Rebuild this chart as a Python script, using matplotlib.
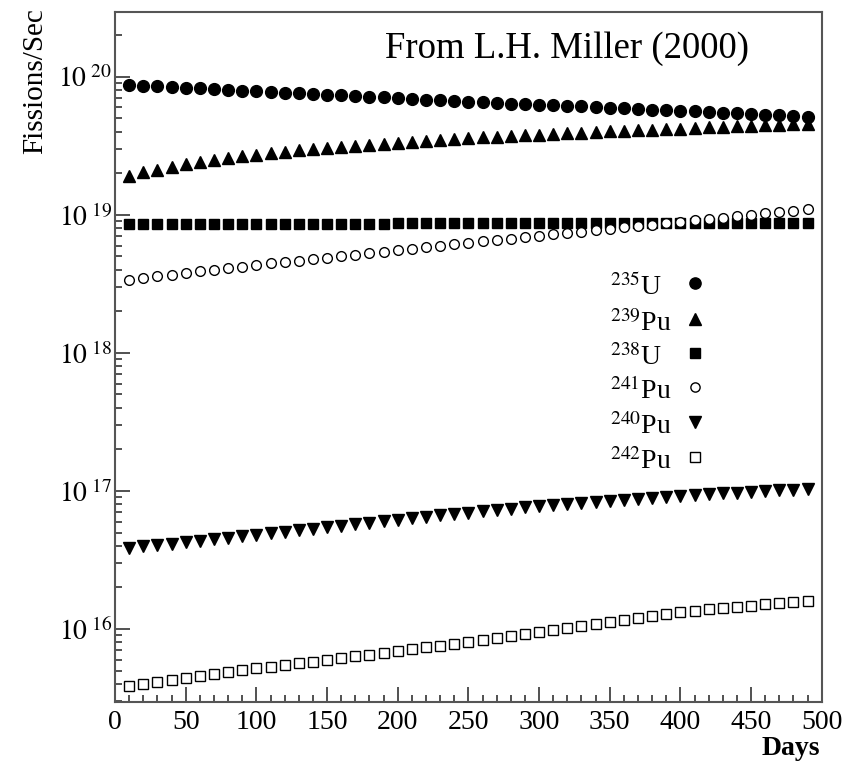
import numpy as np
import matplotlib

matplotlib.use("Agg")
import matplotlib.pyplot as plt
from matplotlib.ticker import LogLocator, MultipleLocator, FuncFormatter, NullFormatter

plt.rcParams["font.family"] = ["Liberation Serif", "DejaVu Serif"]
plt.rcParams["mathtext.fontset"] = "stix"

# Days at which the fission rates are shown
days = list(range(10, 500, 10))

# Fission rates (fissions per second)
u235 = [8.75, 8.65, 8.55, 8.45, 8.35, 8.25, 8.15, 8.05, 7.95, 7.85,
        7.77, 7.68, 7.60, 7.51, 7.43, 7.34, 7.26, 7.18, 7.10, 7.01,
        6.93, 6.85, 6.76, 6.68, 6.60, 6.54, 6.47, 6.41, 6.35, 6.29,
        6.22, 6.16, 6.10, 6.04, 5.98, 5.92, 5.86, 5.80, 5.74, 5.68,
        5.62, 5.56, 5.50, 5.45, 5.39, 5.33, 5.27, 5.21, 5.15]
pu239 = [1.92, 2.03, 2.13, 2.23, 2.33, 2.42, 2.50, 2.58, 2.65, 2.72,
         2.79, 2.86, 2.93, 2.99, 3.05, 3.11, 3.17, 3.23, 3.28, 3.34,
         3.39, 3.44, 3.49, 3.55, 3.61, 3.65, 3.69, 3.74, 3.78, 3.82,
         3.86, 3.90, 3.94, 3.98, 4.02, 4.06, 4.10, 4.14, 4.18, 4.22,
         4.26, 4.30, 4.34, 4.38, 4.41, 4.45, 4.48, 4.52, 4.55]
u238 = [8.60, 8.60, 8.61, 8.61, 8.62, 8.62, 8.62, 8.63, 8.63, 8.63,
        8.64, 8.64, 8.64, 8.65, 8.65, 8.65, 8.66, 8.66, 8.66, 8.67,
        8.67, 8.67, 8.68, 8.68, 8.68, 8.69, 8.69, 8.69, 8.70, 8.70,
        8.70, 8.71, 8.71, 8.71, 8.72, 8.72, 8.72, 8.73, 8.73, 8.73,
        8.74, 8.74, 8.74, 8.75, 8.75, 8.75, 8.76, 8.76, 8.76]
pu241 = [3.38, 3.48, 3.58, 3.68, 3.79, 3.89, 4.00, 4.11, 4.22, 4.34,
         4.45, 4.56, 4.67, 4.79, 4.91, 5.03, 5.15, 5.28, 5.41, 5.55,
         5.69, 5.83, 5.97, 6.12, 6.27, 6.42, 6.57, 6.72, 6.88, 7.04,
         7.21, 7.38, 7.56, 7.74, 7.92, 8.11, 8.30, 8.50, 8.70, 8.90,
         9.11, 9.33, 9.55, 9.78, 10.0, 10.25, 10.5, 10.75, 11.0]
pu240 = [3.86, 3.96, 4.06, 4.16, 4.26, 4.37, 4.48, 4.59, 4.71, 4.83,
         4.95, 5.07, 5.20, 5.33, 5.46, 5.60, 5.74, 5.88, 6.03, 6.18,
         6.33, 6.49, 6.65, 6.82, 6.98, 7.15, 7.30, 7.45, 7.60, 7.75,
         7.90, 8.05, 8.20, 8.35, 8.50, 8.64, 8.78, 8.92, 9.06, 9.20,
         9.33, 9.46, 9.59, 9.72, 9.85, 9.98, 10.1, 10.2, 10.3]
pu242 = [3.87, 4.00, 4.13, 4.27, 4.41, 4.56, 4.71, 4.87, 5.03, 5.20,
         5.34, 5.49, 5.65, 5.80, 5.96, 6.14, 6.33, 6.52, 6.72, 6.92,
         7.13, 7.35, 7.57, 7.81, 8.05, 8.32, 8.60, 8.89, 9.19, 9.50,
         9.82, 10.15, 10.49, 10.84, 11.2, 11.6, 12.0, 12.4, 12.85, 13.3,
         13.6, 13.9, 14.15, 14.45, 14.75, 15.05, 15.35, 15.7, 16.0]

# scale factor of each list above
scales = [1e19, 1e19, 1e18, 1e18, 1e16, 1e15]
labels = [r"$^{235}$U", r"$^{239}$Pu", r"$^{238}$U", r"$^{241}$Pu", r"$^{240}$Pu", r"$^{242}$Pu"]
series = [u235, pu239, u238, pu241, pu240, pu242]

# marker, size, filled
styles = [("o", 8.5, True), ("^", 9, True), ("s", 7.5, True),
          ("o", 7, False), ("v", 9, True), ("s", 7.5, False)]

fig = plt.figure(figsize=(8.65, 7.66), dpi=100)
ax = fig.add_axes([0.133, 0.0836, 0.817, 0.901])

for vals, sc, (mk, ms, filled) in zip(series, scales, styles):
    y = np.array(vals) * sc
    ax.plot(days, y, linestyle="none", marker=mk, markersize=ms,
            markerfacecolor="black" if filled else "white",
            markeredgecolor="black", markeredgewidth=1.0)

ax.set_yscale("log")
ax.set_xlim(0, 500)
ax.set_ylim(2.96e15, 2.96e20)

# ticks like the original (inside, only left and bottom)
ax.xaxis.set_major_locator(MultipleLocator(50))
ax.xaxis.set_minor_locator(MultipleLocator(10))
ax.yaxis.set_major_locator(LogLocator(base=10))
ax.yaxis.set_minor_locator(LogLocator(base=10, subs=np.arange(2, 10)))
ax.yaxis.set_minor_formatter(NullFormatter())
ax.yaxis.set_major_formatter(FuncFormatter(lambda v, p: r"$10^{\ %d}$" % round(np.log10(v))))
ax.tick_params(which="both", direction="in", top=False, right=False, colors="#333333")
ax.tick_params(which="major", length=11, width=1.2, labelsize=20, pad=6)
ax.tick_params(axis="y", which="major", pad=2)
ax.tick_params(which="minor", length=5, width=1.2)
for lbl in ax.get_xticklabels() + ax.get_yticklabels():
    lbl.set_color("black")

for s in ax.spines.values():
    s.set_color("#555555")
    s.set_linewidth(1.5)

ax.text(0.382, 0.933, "From L.H. Miller (2000)", transform=ax.transAxes,
        fontsize=26.5, ha="left", va="baseline")

# legend: labels left aligned, marker to the right of each label
row_px = [283, 319, 353, 387, 422, 457]
for lab, (mk, ms, filled), ypx in zip(labels, styles, row_px):
    yf = (702 - ypx) / 690
    ax.text(0.700, yf - 12 / 690, lab, transform=ax.transAxes, fontsize=20,
            ha="left", va="baseline")
    ax.plot([0.820], [yf], transform=ax.transAxes, clip_on=False, linestyle="none",
            marker=mk, markersize=ms * 0.95,
            markerfacecolor="black" if filled else "white",
            markeredgecolor="black", markeredgewidth=1.0)

fig.text(35 / 865, 1 - 8 / 766, "Fissions/Sec", rotation=90, fontsize=21,
         ha="center", va="top")
fig.text(820 / 865, 1 - 755 / 766, "Days", fontsize=20, fontweight="bold",
         ha="right", va="baseline")

fig.savefig("out.png", dpi=100)
